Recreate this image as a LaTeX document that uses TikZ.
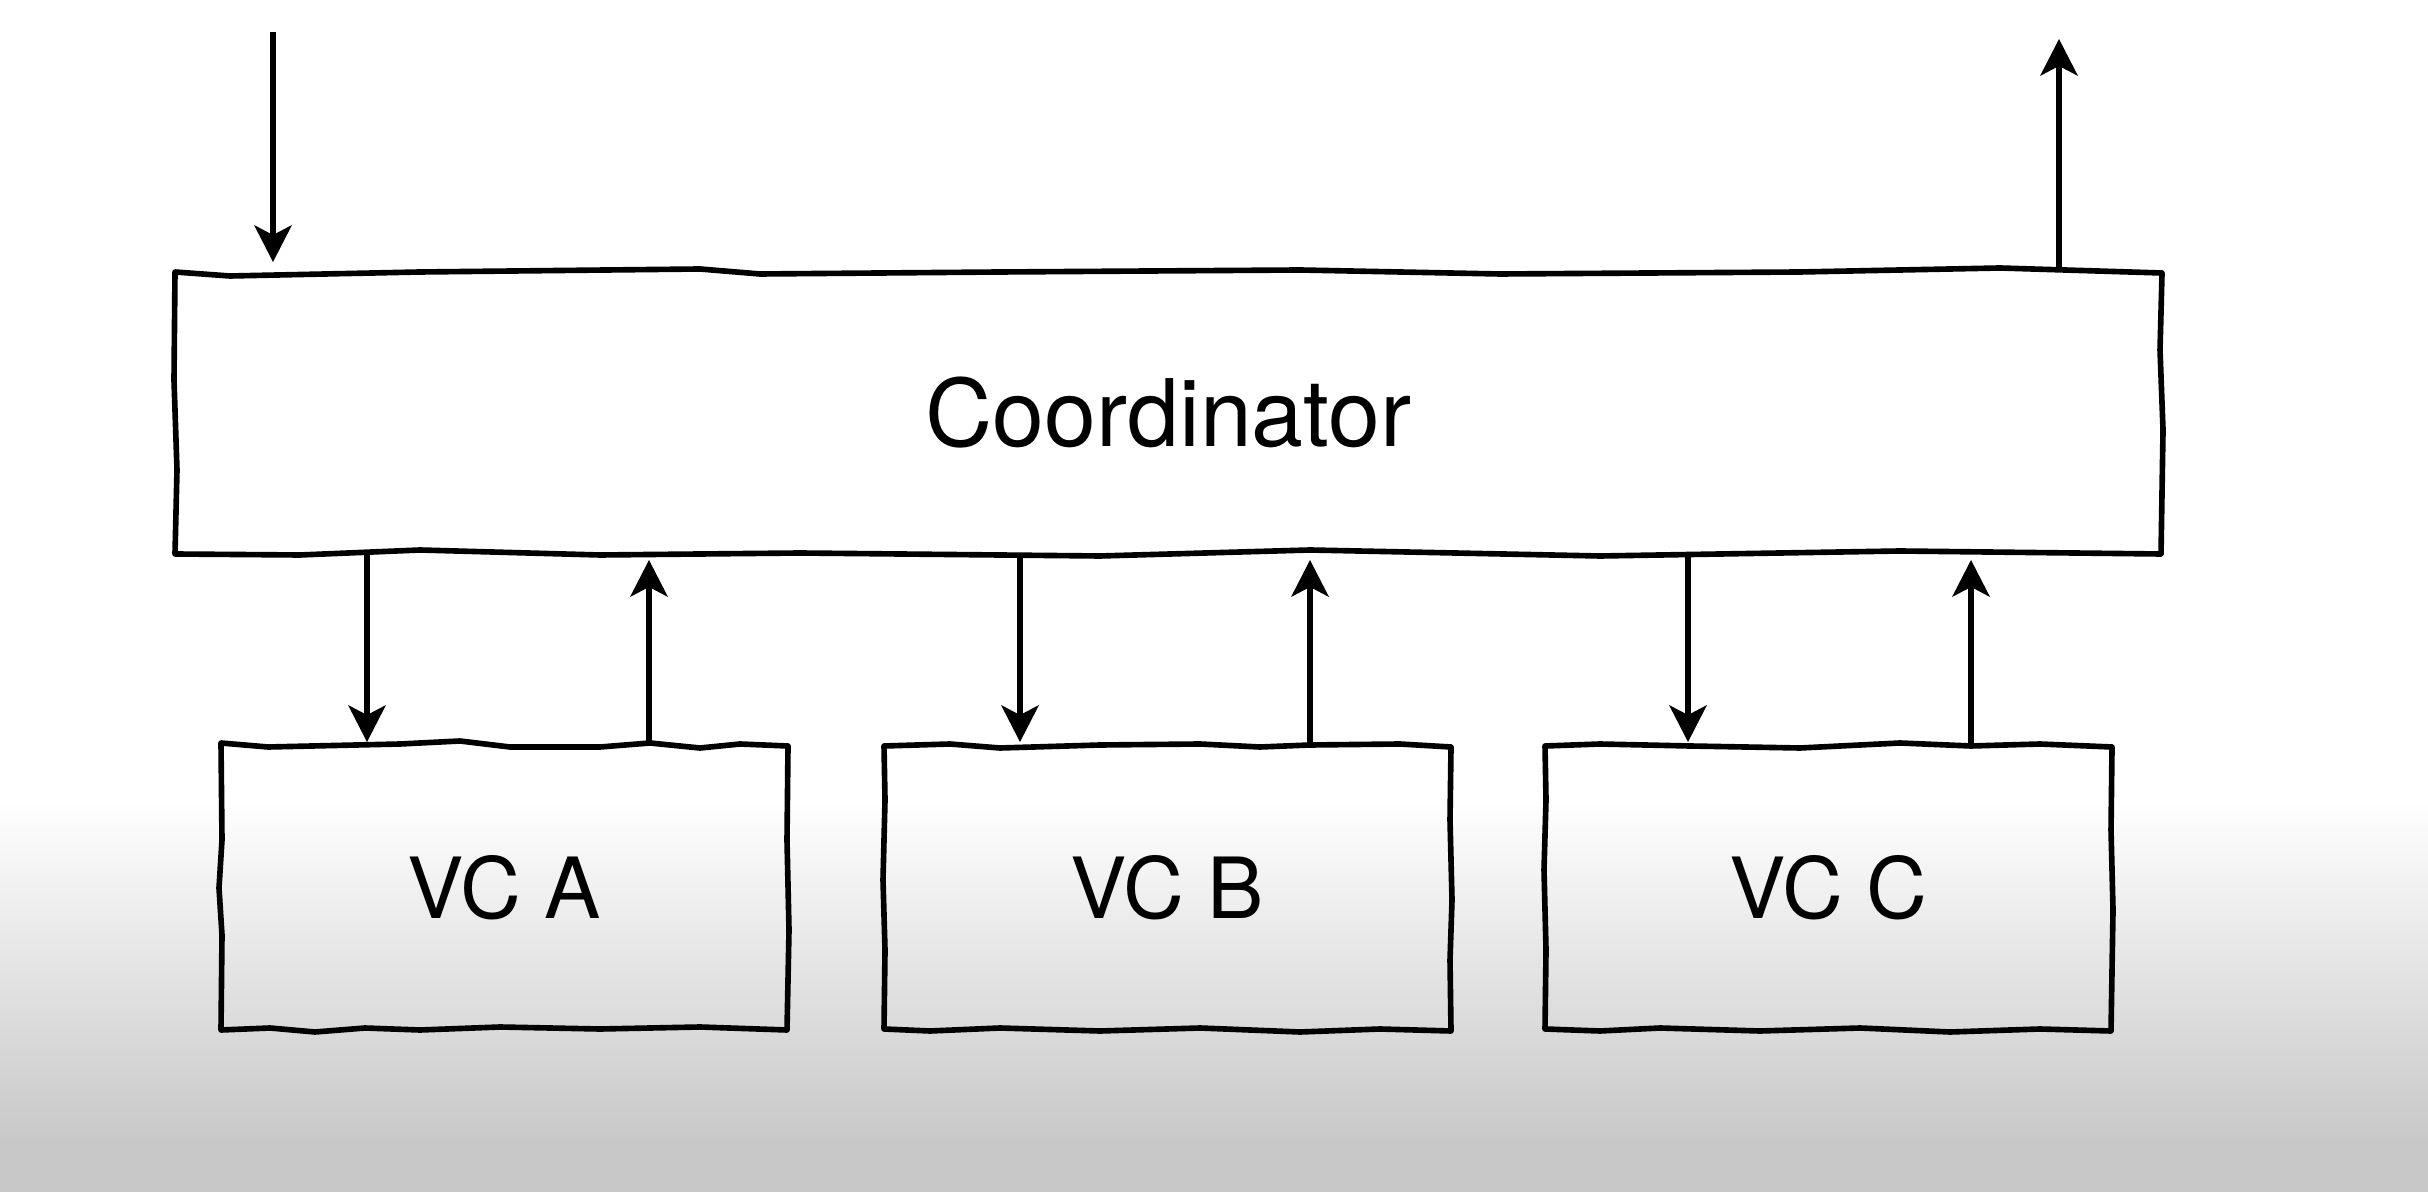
\documentclass[tikz,border=0pt]{standalone}
\usepackage{fontspec}
\setmainfont{TeX Gyre Heros}
\definecolor{bggray}{RGB}{200,200,200}
\tikzset{
  conn/.style={line width=1.5pt},
  sketch/.style={line width=1.6pt, line join=round},
  boxlabel/.style={draw=none, inner sep=0pt, font=\fontsize{24}{28}\selectfont},
}
% filled arrow heads (tip at #1); in this picture positive y points down
\newcommand\headdown[1]{\fill[black] (#1) -- ++(-19,-37) -- ++(19,10) -- ++(19,-10) -- cycle;}
\newcommand\headup[1]{\fill[black] (#1) -- ++(-19,37) -- ++(19,-10) -- ++(19,10) -- cycle;}
\begin{document}
\begin{tikzpicture}[x=0.01cm,y=-0.01cm]
\useasboundingbox (0,0) rectangle (2428,1192);
% background
\fill[white] (0,0) rectangle (2428,800);
\shade[top color=white, bottom color=bggray, draw=none] (0,799) rectangle (2428,1141);
\fill[bggray] (0,1140) rectangle (2428,1192);

% nodes
\node[boxlabel, minimum width=19.87cm, minimum height=2.82cm, font=\fontsize{26.5}{32}\selectfont] (coord) at (1168.5,413) {Coordinator};
\node[boxlabel, minimum width=5.67cm, minimum height=2.85cm] (vca) at (504.5,887.5) {VC A};
\node[boxlabel, minimum width=5.67cm, minimum height=2.85cm] (vcb) at (1167.5,887.5) {VC B};
\node[boxlabel, minimum width=5.67cm, minimum height=2.85cm] (vcc) at (1828.5,887.5) {VC C};

% sketchy outlines
\draw[sketch] (175,272) -- (230,276) -- (420,272) -- (700,269) -- (760,274) -- (1000,272) -- (1300,270) -- (1500,274) -- (1800,272) -- (2000,268) -- (2162,273)
  -- (2160,350) -- (2163,430) -- (2161,554)
  -- (1900,551) -- (1600,556) -- (1310,550) -- (1100,556) -- (800,553) -- (600,555) -- (420,550) -- (300,555) -- (175,554)
  -- (177,470) -- (174,380) -- cycle;
\draw[sketch] (221,743) -- (268,747) -- (400,744) -- (460,741) -- (510,747) -- (600,747) -- (650,743) -- (700,748) -- (740,744) -- (788,746)
  -- (787,840) -- (789,930) -- (787,1030)
  -- (700,1027) -- (600,1029) -- (500,1027) -- (420,1030) -- (365,1028) -- (315,1032) -- (270,1028) -- (221,1030)
  -- (222,935) -- (219,888) -- (222,840) -- cycle;
\draw[sketch] (884,746) -- (950,744) -- (1000,748) -- (1100,745) -- (1200,744) -- (1260,747) -- (1310,745) -- (1400,744) -- (1451,747)
  -- (1450,820) -- (1452,900) -- (1450,960) -- (1451,1031)
  -- (1380,1029) -- (1300,1032) -- (1200,1028) -- (1100,1031) -- (1000,1028) -- (930,1031) -- (884,1029)
  -- (885,950) -- (883,880) -- (885,800) -- cycle;
\draw[sketch] (1545,746) -- (1600,744) -- (1690,746) -- (1800,748) -- (1900,743) -- (1971,746) -- (2040,744) -- (2112,747)
  -- (2111,830) -- (2113,910) -- (2111,1031)
  -- (2040,1029) -- (1950,1032) -- (1860,1028) -- (1760,1031) -- (1660,1028) -- (1600,1031) -- (1545,1029)
  -- (1546,950) -- (1544,870) -- (1546,800) -- cycle;

% connector end points
\coordinate (in) at (273,32);
\coordinate (tin) at (273,262);
\coordinate (tout) at (2059,39);
\coordinate (ta1) at (367,742);
\coordinate (ta2) at (649,560);
\coordinate (tb1) at (1020,742);
\coordinate (tb2) at (1310,560);
\coordinate (tc1) at (1688,742);
\coordinate (tc2) at (1971,560);

% connectors
\draw[conn] (in) -- ([yshift=0.25cm]tin); \headdown{tin}
\draw[conn] (coord.north -| tout) -- ([yshift=-0.25cm]tout); \headup{tout}
\draw[conn] (coord.south -| ta1) -- ([yshift=0.25cm]ta1); \headdown{ta1}
\draw[conn] (vca.north -| ta2) -- ([yshift=-0.25cm]ta2); \headup{ta2}
\draw[conn] (coord.south -| tb1) -- ([yshift=0.25cm]tb1); \headdown{tb1}
\draw[conn] (vcb.north -| tb2) -- ([yshift=-0.25cm]tb2); \headup{tb2}
\draw[conn] (coord.south -| tc1) -- ([yshift=0.25cm]tc1); \headdown{tc1}
\draw[conn] (vcc.north -| tc2) -- ([yshift=-0.25cm]tc2); \headup{tc2}
\end{tikzpicture}
\end{document}
